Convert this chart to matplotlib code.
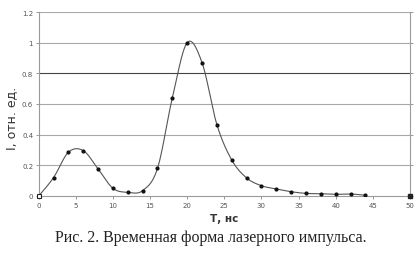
import numpy as np
import matplotlib
matplotlib.use("Agg")
import matplotlib.pyplot as plt

# Data
time_ns = [0, 2, 4, 6, 8, 10, 12, 14, 16, 18, 20, 22, 24, 26, 28, 30, 32, 34, 36, 38, 40, 42, 44]
intensity = [0.0, 0.12, 0.285, 0.296, 0.176, 0.05, 0.024, 0.035, 0.18, 0.64, 1.0, 0.87, 0.466,
             0.235, 0.118, 0.067, 0.046, 0.028, 0.017, 0.015, 0.011, 0.013, 0.005]
square_t = [0, 50]
square_v = [0, 0]
x_ticks = [0, 5, 10, 15, 20, 25, 30, 35, 40, 45, 50]
y_ticks = [0, 0.2, 0.4, 0.6, 0.8, 1.0, 1.2]
y_tick_labels = ["0", "0.2", "0.4", "0.6", "0.8", "1", "1.2"]


def smooth(xs, ys, n=30):
    P = np.column_stack([xs, ys]).astype(float)
    out = []
    for i in range(len(P) - 1):
        p0 = P[i - 1] if i > 0 else P[i]
        p1 = P[i]
        p2 = P[i + 1]
        p3 = P[i + 2] if i + 2 < len(P) else P[i + 1]
        c1 = p1 + (p2 - p0) / 6.0
        c2 = p2 - (p3 - p1) / 6.0
        t = np.linspace(0, 1, n)[:, None]
        seg = ((1 - t) ** 3) * p1 + 3 * ((1 - t) ** 2) * t * c1 + 3 * (1 - t) * t ** 2 * c2 + t ** 3 * p2
        out.append(seg if i == 0 else seg[1:])
    s = np.vstack(out)
    return s[:, 0], s[:, 1]


fig = plt.figure(figsize=(4.18, 2.55), dpi=100)
ax = fig.add_axes([0.0926, 0.2275, 0.888, 0.7215])

for yv in y_ticks[1:]:
    col = "#444444" if abs(yv - 0.8) < 1e-9 else "#a8a8a8"
    ax.axhline(yv, color=col, lw=0.8, zorder=1)

sx, sy = smooth(time_ns, intensity)
ax.plot(sx, sy, color="#555555", lw=0.8, zorder=2)
ax.plot(time_ns[1:], intensity[1:], linestyle="none", marker="o", ms=2.0,
        color="#111111", zorder=3)
ax.plot(square_t[:1], square_v[:1], linestyle="none", marker="s", ms=3.2,
        mfc="white", mec="#222222", mew=0.8, zorder=4, clip_on=False)
ax.plot(square_t[1:], square_v[1:], linestyle="none", marker="s", ms=3.2,
        color="#222222", zorder=4, clip_on=False)

ax.set_xlim(0, 50)
ax.set_ylim(0, 1.2)
ax.set_xticks(x_ticks)
ax.set_yticks(y_ticks)
ax.set_yticklabels(y_tick_labels)
ax.tick_params(axis="both", labelsize=5, colors="#888888", labelcolor="#555555",
               length=2, width=0.6, pad=2)
for side in ["left", "bottom", "right"]:
    ax.spines[side].set_color("#9a9a9a")
    ax.spines[side].set_linewidth(0.8)
ax.spines["top"].set_visible(False)
ax.tick_params(axis="y", right=True)

ax.set_xlabel("Т, нс", fontsize=7.5, fontweight="bold", color="#333333")
ax.xaxis.set_label_coords(0.5, -0.09)
ax.set_ylabel("I, отн. ед.", fontsize=9, color="#333333")
ax.yaxis.set_label_coords(-0.056, 0.43)

fig.text(0.505, 0.065, "Рис. 2. Временная форма лазерного импульса.",
         ha="center", va="center", fontsize=11.5, family="Liberation Serif", color="#222222")

fig.savefig("out.png", dpi=100)
